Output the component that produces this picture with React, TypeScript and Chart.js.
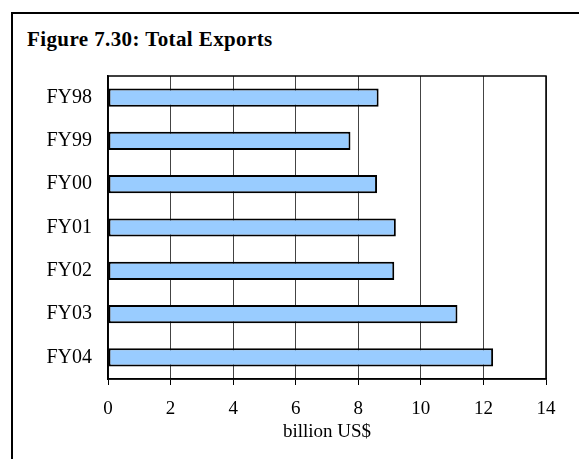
import React, { useEffect, useRef } from "react";
import { Chart, registerables } from "chart.js";

Chart.register(...registerables);

const categories: string[] = ["FY98", "FY99", "FY00", "FY01", "FY02", "FY03", "FY04"];
const exportsValues: number[] = [8.65, 7.75, 8.6, 9.2, 9.15, 11.17, 12.31];
const xTicks: number[] = [0, 2, 4, 6, 8, 10, 12, 14];
const titleText = "Figure 7.30: Total Exports";
const xAxisTitle = "billion US$";

const W = 579;
const H = 459;
const PLOT = { left: 108, top: 76, right: 546, bottom: 379 };
const SERIF = '"Liberation Serif", "Times New Roman", serif';

const framePlugin = {
  id: "frame",
  afterDatasetsDraw(chart: any) {
    const { ctx, chartArea } = chart;
    ctx.save();
    ctx.strokeStyle = "#000";
    ctx.lineWidth = 1.5;
    ctx.strokeRect(chartArea.left, chartArea.top, chartArea.right - chartArea.left, chartArea.bottom - chartArea.top);
    ctx.restore();
  },
};

export default function App() {
  const ref = useRef<HTMLCanvasElement | null>(null);

  useEffect(() => {
    if (!ref.current) return;
    const chart = new Chart(ref.current, {
      type: "bar",
      data: {
        labels: categories,
        datasets: [
          {
            data: exportsValues,
            backgroundColor: "#99ccff",
            borderColor: "#000",
            borderWidth: 2,
            borderSkipped: false,
            categoryPercentage: 1,
            barPercentage: 0.42,
          },
        ],
      },
      options: {
        indexAxis: "y",
        animation: false,
        responsive: false,
        devicePixelRatio: 1,
        layout: { padding: { left: 0, top: PLOT.top, right: W - PLOT.right, bottom: 0 } },
        plugins: {
          legend: { display: false },
          title: { display: false },
          tooltip: { enabled: false },
        },
        scales: {
          x: {
            type: "linear",
            min: xTicks[0],
            max: xTicks[xTicks.length - 1],
            afterBuildTicks: (scale: any) => {
              scale.ticks = xTicks.map((v) => ({ value: v }));
            },
            afterFit: (scale: any) => {
              scale.height = H - PLOT.bottom;
            },
            grid: {
              display: true,
              color: "#444",
              lineWidth: 1,
              drawTicks: true,
              tickLength: 6,
              tickColor: "#000",
            },
            border: { display: true, color: "#000", width: 1.5 },
            ticks: {
              color: "#000",
              padding: 13,
              font: { family: SERIF, size: 19 },
              maxRotation: 0,
            },
            title: {
              display: true,
              text: xAxisTitle,
              color: "#000",
              font: { family: SERIF, size: 19 },
              padding: { top: 0, bottom: 16 },
            },
          },
          y: {
            type: "category",
            afterFit: (scale: any) => {
              scale.width = PLOT.left;
            },
            grid: { display: false, drawTicks: false },
            border: { display: true, color: "#000", width: 1.5 },
            ticks: {
              color: "#000",
              padding: 16,
              font: { family: SERIF, size: 20 },
            },
          },
        },
      },
      plugins: [framePlugin],
    });
    return () => chart.destroy();
  }, []);

  return (
    <div style={{ position: "absolute", left: 0, top: 0, width: W, height: H, overflow: "hidden", background: "#fff" }}>
      <div
        style={{
          position: "absolute",
          left: 11,
          top: 12,
          width: 700,
          height: 600,
          borderLeft: "2px solid #000",
          borderTop: "2px solid #000",
        }}
      />
      <div
        style={{
          position: "absolute",
          left: 27,
          top: 29,
          font: `bold 21px ${SERIF}`,
          lineHeight: "21px",
          letterSpacing: "0.4px",
          whiteSpace: "nowrap",
          color: "#000",
        }}
      >
        {titleText}
      </div>
      <canvas
        ref={ref}
        width={W}
        height={H}
        style={{ position: "absolute", left: 0, top: 0, width: W, height: H }}
      />
    </div>
  );
}
